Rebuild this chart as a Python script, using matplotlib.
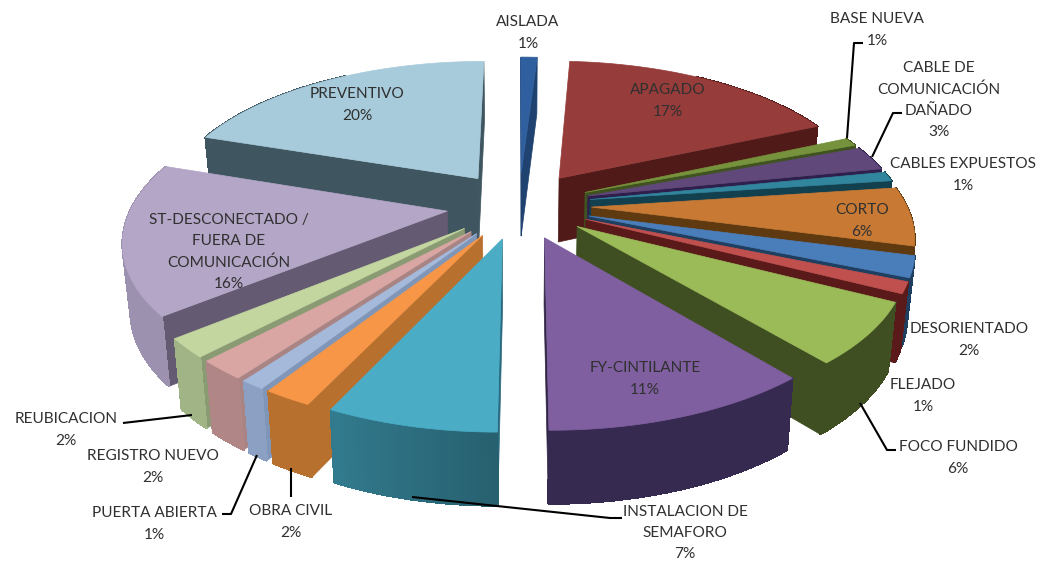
#!/usr/bin/env python

import numpy as np
import matplotlib
matplotlib.use('Agg')
import matplotlib.pyplot as plt
from matplotlib.colors import to_rgb
from matplotlib.patches import Polygon

names = ['AISLADA', 'APAGADO', 'BASE NUEVA', 'CABLE DE\nCOMUNICACIÓN\nDAÑADO', 'CABLES EXPUESTOS',
         'CORTO', 'DESORIENTADO', 'FLEJADO', 'FOCO FUNDIDO', 'FY-CINTILANTE',
         'INSTALACION DE\nSEMAFORO', 'OBRA CIVIL', 'PUERTA ABIERTA', 'REGISTRO NUEVO', 'REUBICACION',
         'ST-DESCONECTADO /\nFUERA DE\nCOMUNICACIÓN', 'PREVENTIVO']
values = [1.0, 17.3, 0.9, 2.6, 1.0, 6.2, 2.2, 1.2, 6.4, 11.1, 7.0, 2.0, 1.0, 2.0, 2.0, 16.0, 19.8]

top_colors = ['#2F5F9E', '#963C3A', '#76923C', '#60497A', '#31859C', '#C87A35', '#4A7EBB', '#C0504D',
              '#9BBB59', '#7F5F9F', '#4BACC6', '#F79646', '#A5B9DB', '#D9A6A4', '#C3D6A0', '#B3A6C6', '#A8CBDB']
face_colors = ['#1F4270', '#4F1A18', '#3F5220', '#2E1F4D', '#12404F', '#5F3A10', '#1F3F60', '#5A1A1A',
               '#3F4F22', '#2F2545', '#2A6A80', '#B8702F', '#7F96B8', '#A88584', '#8A9B73', '#645A72', '#3F5560']
side_colors = ['#2A5488', '#4F1A18', '#3F5220', '#2E1F4D', '#12404F', '#5F3A10', '#1F3F60', '#5A1A1A',
               '#3F4F22', '#362A50', '#327B8E', '#B8702F', '#8BA0C2', '#B08786', '#A0B485', '#9C91AE', '#3F5560']

label_pos = [(528, 33), (668, 101), (877, 30), (939, 100), (963, 175), (862, 221), (969, 340), (923, 396),
             (958, 458), (645, 379), (685, 533), (291, 522), (154, 524), (153, 467), (66, 430), (229, 252),
             (357, 105)]

leaders = [[(863, 43), (854, 43), (847, 138)],
           [(902, 113), (893, 113), (872, 157)],
           [(896, 450), (887, 450), (860, 403)],
           [(622, 518), (610, 518), (412, 497)],
           [(291, 497), (291, 468)],
           [(222, 514), (231, 514), (257, 455)],
           [(123, 423), (192, 415)]]

cx, cy = 519, 205   # pie centre in pixels
rx, ry = 315, 146
persp = 0.174
explode = 0.23


def project(u, v):
    s = 1 / (1 + persp * v)
    return cx + rx * u * s, cy - ry * v * s


def lower(x, y, v):
    # the underside is a bit smaller and the front looks thicker than the back
    return cx + (x - cx) * 0.98, y + 65 - 7 * v


def shade(color, t):
    f = min(1, 0.78 + 0.5 * (t - np.pi)) if np.pi < t < 1.5 * np.pi else 1
    return tuple(c * f for c in to_rgb(color))


def face_visible(a, p, c):
    # going down from the edge a-p has to leave the slice top, else the top hides it
    ex, ey = p[0] - a[0], p[1] - a[1]
    return ex * (ex * (c[1] - a[1]) - ey * (c[0] - a[0])) < 0


fig = plt.figure(figsize=(10.38, 5.62), dpi=100)
ax = fig.add_axes([0, 0, 1, 1])
ax.set_xlim(0, 1038)
ax.set_ylim(562, 0)
ax.axis('off')

edges = np.radians(np.cumsum([0] + values) * 360 / sum(values))
mids = (edges[:-1] + edges[1:]) / 2

# back slices first so the front ones paint over them
for i in sorted(range(len(values)), key=lambda k: -np.cos(mids[k])):
    ox, oy = explode * np.sin(mids[i]), explode * np.cos(mids[i])
    ts = np.linspace(edges[i], edges[i + 1], 40)
    vs = oy + np.cos(ts)
    px, py = project(ox + np.sin(ts), vs)
    bx, by = lower(px, py, vs)
    ax0, ay0 = project(ox, oy)
    bx0, by0 = lower(ax0, ay0, oy)
    centre = (np.mean(px), np.mean(py))

    for k in [0, -1]:
        if face_visible((ax0, ay0), (px[k], py[k]), centre):
            ax.add_patch(Polygon([(ax0, ay0), (px[k], py[k]), (bx[k], by[k]), (bx0, by0)],
                                 fc=face_colors[i], ec=face_colors[i], lw=0.5))
    for j in range(len(ts) - 1):
        if np.cos(ts[j]) > 0.85:  # rim at the very back cannot be seen
            continue
        col = shade(side_colors[i], ts[j])
        ax.add_patch(Polygon([(px[j], py[j]), (px[j + 1], py[j + 1]), (bx[j + 1], by[j + 1]), (bx[j], by[j])],
                             fc=col, ec=col, lw=0.8, antialiased=False))
    ax.add_patch(Polygon(list(zip(px, py)) + [(ax0, ay0)], fc=top_colors[i], ec=top_colors[i], lw=0.5))

for pts in leaders:
    ax.plot([p[0] for p in pts], [p[1] for p in pts], color='black', lw=1.5, solid_capstyle='butt')

for i, name in enumerate(names):
    ax.text(label_pos[i][0], label_pos[i][1], name + '\n' + str(round(values[i])) + '%', ha='center', va='center',
            fontsize=11.1, family='Lato', color='#303030', linespacing=1.65)

fig.savefig('out.png', dpi=100)
